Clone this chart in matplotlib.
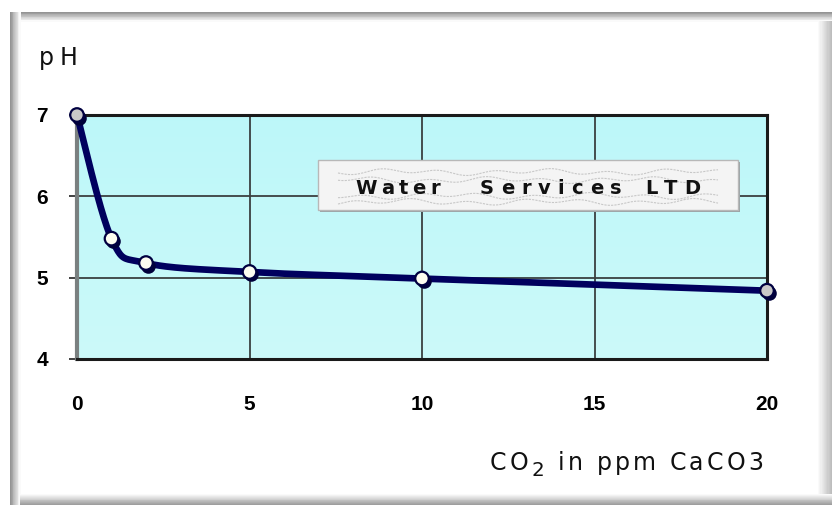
import numpy as np
import matplotlib
matplotlib.use("Agg")
import matplotlib.pyplot as plt
from matplotlib.patches import Rectangle
import matplotlib.transforms as mtransforms

# ---- data ----
co2_ppm = [0, 1, 2, 5, 10, 20]
ph_values = [7.0, 5.48, 5.18, 5.07, 4.99, 4.84]
x_ticks = [0, 5, 10, 15, 20]
y_ticks = [4, 5, 6, 7]
logo_words = ["Water", "Services", "LTD"]
y_label = "pH"
x_label_parts = [("CO", False), ("2", True), (" in ppm CaCO3", False)]

W, H = 832, 505
fig = plt.figure(figsize=(W / 100, H / 100), dpi=100)
fig.patch.set_facecolor("white")
renderer = fig.canvas.get_renderer()

# ---- bevel frame in pixel coordinates ----
bg = fig.add_axes([0, 0, 1, 1], zorder=-10)
bg.set_xlim(0, W)
bg.set_ylim(H, 0)
bg.axis("off")

def band(x0, y0, x1, y1, c0, c1, vertical=True, n=12):
    for i in range(n):
        t = i / (n - 1)
        c = np.array(c0) * (1 - t) + np.array(c1) * t
        if vertical:
            h = (y1 - y0) / n
            bg.add_patch(Rectangle((x0, y0 + i * h), x1 - x0, h + 0.5, color=c, lw=0))
        else:
            w = (x1 - x0) / n
            bg.add_patch(Rectangle((x0 + i * w, y0), w + 0.5, y1 - y0, color=c, lw=0))

g_dark = (0.58, 0.58, 0.58)
g_light = (0.98, 0.98, 0.98)
band(10, 12, 832, 21, g_dark, g_light, vertical=True)
band(10, 12, 20, 505, g_dark, g_light, vertical=False)
band(20, 494, 832, 505, g_light, (0.62, 0.62, 0.62), vertical=True)
band(818, 21, 832, 494, g_light, (0.74, 0.74, 0.74), vertical=False)

# ---- main axes ----
ax_l, ax_r, ax_t, ax_b = 77, 767, 115, 359
ax = fig.add_axes([ax_l / W, 1 - ax_b / H, (ax_r - ax_l) / W, (ax_b - ax_t) / H])
ax.set_xlim(0, 20)
ax.set_ylim(4, 7)

grad = np.linspace(0, 1, 100).reshape(-1, 1)
c_top = np.array([0.74, 0.97, 0.98])
c_bot = np.array([0.80, 0.98, 0.98])
img = c_top * (1 - grad[..., None]) + c_bot * grad[..., None]
img = np.repeat(img, 2, axis=1)
ax.imshow(img, extent=[0, 20, 4, 7], aspect="auto", origin="upper", zorder=0)

ax.set_xticks(x_ticks)
ax.set_yticks(y_ticks)
ax.grid(True, color="#3a4040", lw=1.3, zorder=1)
for s in ["top", "right", "bottom"]:
    ax.spines[s].set_color("#1a1a1a")
    ax.spines[s].set_linewidth(2.2)
ax.spines["left"].set_color("#7a8080")
ax.spines["left"].set_linewidth(3)
ax.tick_params(axis="y", length=6, width=1.3, color="#333333", pad=15,
               labelsize=15)
ax.tick_params(axis="x", length=0, pad=26, labelsize=15)
for lab in ax.get_xticklabels() + ax.get_yticklabels():
    lab.set_fontfamily("Liberation Sans")
    lab.set_fontweight("bold")

# ---- smooth curve (Excel-like Bezier through data points) ----
sx = (ax_r - ax_l) / 20.0
sy = (ax_b - ax_t) / 3.0
P = np.column_stack([np.array(co2_ppm) * sx, np.array(ph_values) * sy])
n = len(P)
curve = []
for i in range(n - 1):
    p0 = P[i - 1] if i > 0 else P[i]
    p1, p2 = P[i], P[i + 1]
    p3 = P[i + 2] if i + 2 < n else P[i + 1]
    c1 = p1 + (p2 - p0) / 6.0
    c2 = p2 - (p3 - p1) / 6.0
    t = np.linspace(0, 1, 40)[:, None]
    seg = ((1 - t) ** 3) * p1 + 3 * ((1 - t) ** 2) * t * c1 + 3 * (1 - t) * t ** 2 * c2 + t ** 3 * p2
    curve.append(seg)
curve = np.vstack(curve)
ax.plot(curve[:, 0] / sx, curve[:, 1] / sy, color="#00005e", lw=4.8,
        solid_capstyle="round", zorder=3, clip_on=False)

shadow = mtransforms.offset_copy(ax.transData, fig=fig, x=1.5, y=-2.5, units="dots")
ax.scatter(co2_ppm, ph_values, s=110, color="#00003a", transform=shadow,
           zorder=4, clip_on=False, linewidths=0)
faces = ["#c8c8c8" if i in (0, len(co2_ppm) - 1) else "#fdfdf0" for i in range(len(co2_ppm))]
ax.scatter(co2_ppm, ph_values, s=95, c=faces, edgecolors="#000040",
           linewidths=1.6, zorder=5, clip_on=False)

# ---- overlay pixel axes for texts and logo ----
ov = fig.add_axes([0, 0, 1, 1], zorder=5)
ov.set_xlim(0, W)
ov.set_ylim(H, 0)
ov.axis("off")

def tracked(pieces, x0, x1, y, size, weight="normal", family="DejaVu Sans"):
    """Place characters between x0 and x1 (pixels) with uniform letter spacing."""
    items = []
    for txt, sub in pieces:
        for ch in txt:
            fs = size * 0.85 if sub else size
            dy = size * 0.42 if sub else 0
            t = ov.text(0, y + dy, ch, fontsize=fs, fontweight=weight, family=family,
                        ha="left", va="center", color="#111111")
            items.append(t)
    widths = []
    for t in items:
        if t.get_text() == " ":
            widths.append(size * 0.32 * 1.389)
        else:
            widths.append(t.get_window_extent(renderer).width)
    gap = (x1 - x0 - sum(widths)) / max(len(items) - 1, 1)
    x = x0
    for t, w in zip(items, widths):
        t.set_x(x)
        x += w + gap

# logo box
bx0, bx1, by0, by1 = 318, 738, 160, 210
ov.add_patch(Rectangle((bx0 + 2, by0 + 2), bx1 - bx0, by1 - by0, color="#9aa4a6", lw=0))
ov.add_patch(Rectangle((bx0, by0), bx1 - bx0, by1 - by0, facecolor="#f4f4f4",
                       edgecolor="#b8b8b8", lw=1))
xx = np.linspace(bx0 + 20, bx1 - 20, 300)
for k, yy0 in enumerate([172, 180, 196, 202]):
    yy = yy0 + 2.0 * np.sin(xx / 9.0 + k) + 1.5 * np.sin(xx / 23.0 + 2 * k)
    ov.plot(xx, yy, color="#c8c8c8", lw=0.8, ls=(0, (2, 1)))

word_spans = [(355, 440), (480, 622), (645, 700)]
for word, (wx0, wx1) in zip(logo_words, word_spans):
    tracked([(word, False)], wx0, wx1, 188, 14, weight="heavy")

# axis labels
tracked([(y_label, False)], 39, 77, 58, 17)
tracked(x_label_parts, 490, 763, 463, 17)

fig.savefig("out.png", dpi=100)
